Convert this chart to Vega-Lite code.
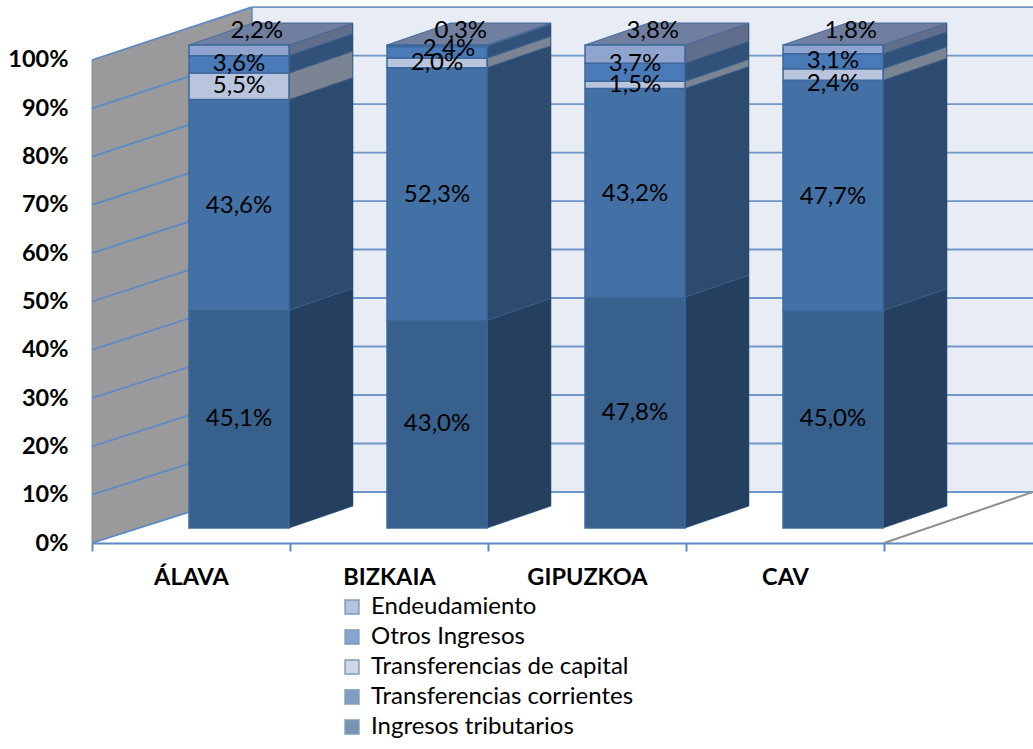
{
"$schema":"https://vega.github.io/schema/vega-lite/v6.json",
"width":941,"height":543,
"autosize":{"type":"none"},
"padding":{"left":92,"top":0,"right":0,"bottom":206},
"background":"white",
"config":{"view":{"stroke":null},"font":"Lato"},
"datasets":{
"ingresos":[
{"provincia":"ÁLAVA","serie":"Ingresos tributarios","valor":45.1},
{"provincia":"ÁLAVA","serie":"Transferencias corrientes","valor":43.6},
{"provincia":"ÁLAVA","serie":"Transferencias de capital","valor":5.5},
{"provincia":"ÁLAVA","serie":"Otros Ingresos","valor":3.6},
{"provincia":"ÁLAVA","serie":"Endeudamiento","valor":2.2},
{"provincia":"BIZKAIA","serie":"Ingresos tributarios","valor":43.0},
{"provincia":"BIZKAIA","serie":"Transferencias corrientes","valor":52.3},
{"provincia":"BIZKAIA","serie":"Transferencias de capital","valor":2.0},
{"provincia":"BIZKAIA","serie":"Otros Ingresos","valor":2.4},
{"provincia":"BIZKAIA","serie":"Endeudamiento","valor":0.3},
{"provincia":"GIPUZKOA","serie":"Ingresos tributarios","valor":47.8},
{"provincia":"GIPUZKOA","serie":"Transferencias corrientes","valor":43.2},
{"provincia":"GIPUZKOA","serie":"Transferencias de capital","valor":1.5},
{"provincia":"GIPUZKOA","serie":"Otros Ingresos","valor":3.7},
{"provincia":"GIPUZKOA","serie":"Endeudamiento","valor":3.8},
{"provincia":"CAV","serie":"Ingresos tributarios","valor":45.0},
{"provincia":"CAV","serie":"Transferencias corrientes","valor":47.7},
{"provincia":"CAV","serie":"Transferencias de capital","valor":2.4},
{"provincia":"CAV","serie":"Otros Ingresos","valor":3.1},
{"provincia":"CAV","serie":"Endeudamiento","valor":1.8}
],
"rejilla":[{"pct":0},{"pct":10},{"pct":20},{"pct":30},{"pct":40},{"pct":50},{"pct":60},{"pct":70},{"pct":80},{"pct":90},{"pct":100}]
},
"layer":[
{"data":{"values":[{"p":0},{"p":1}]},
 "transform":[{"calculate":"datum.p*0.808","as":"xw"},{"calculate":"datum.p*10.56","as":"yw0"},{"calculate":"100+datum.p*10.96","as":"yw1"}],
 "mark":{"type":"area","fill":"#9a9a9d","stroke":"#8f8f92","strokeWidth":1},
 "encoding":{
  "x":{"field":"xw","type":"quantitative",
   "scale":{"domain":[0,4.7525],"nice":false,"zero":false},
   "axis":{"title":null,"values":[0,0.5,1,1.5,2,2.5,3,3.5,4],
    "grid":false,"domainColor":"#5b8ac5","domainWidth":2,"tickColor":"#5b8ac5","tickWidth":2,"tickSize":8,
    "tickOpacity":{"condition":{"test":"datum.value%1==0","value":1},"value":0},
    "labelExpr":"datum.value==0.5?'ÁLAVA':datum.value==1.5?'BIZKAIA':datum.value==2.5?'GIPUZKOA':datum.value==3.5?'CAV':''",
    "labelFont":"Lato","labelFontWeight":"bold","labelFontSize":23.5,"labelColor":"#000","labelPadding":14,"labelOverlap":false,"labelBound":false,"labelFlush":false}},
  "y":{"field":"yw0","type":"quantitative",
   "scale":{"domain":[0,112.42],"nice":false,"zero":false},
   "axis":{"title":null,"values":[0,10,20,30,40,50,60,70,80,90,100],"grid":false,"domain":false,"ticks":false,
    "labelExpr":"datum.value+'%'","labelFont":"Lato","labelFontWeight":"bold","labelFontSize":23.5,"labelColor":"#000","labelPadding":24,"labelOverlap":false,"labelBound":false}},
  "y2":{"field":"yw1"}
 }},
{"data":{"values":[{"pared":"fondo"}]},
 "mark":{"type":"rect","fill":"#e8ecf5"},
 "encoding":{"x":{"datum":0.808},"x2":{"datum":4.7525},"y":{"datum":10.56},"y2":{"datum":110.96}}},
{"data":{"values":[{"pared":"arista"}]},
 "mark":{"type":"rule","stroke":"#5b8ac5","strokeWidth":1.5},
 "encoding":{"x":{"datum":0.808},"y":{"datum":10.56},"y2":{"datum":110.96}}},
{"data":{"name":"rejilla"},
 "transform":[{"calculate":"[0,1]","as":"p"},{"flatten":["p"]},{"calculate":"datum.p*0.808","as":"xg"},{"calculate":"datum.pct+datum.p*(10.56+datum.pct*0.004)","as":"yg"}],
 "mark":{"type":"line","stroke":"#5b8ac5","strokeWidth":1.8},
 "encoding":{"x":{"field":"xg","type":"quantitative"},"y":{"field":"yg","type":"quantitative"},"detail":{"field":"pct"}}},
{"data":{"name":"rejilla"},
 "transform":[{"calculate":"datum.pct+10.56+datum.pct*0.004","as":"yg"}],
 "mark":{"type":"rule","stroke":"#6f96c8","strokeWidth":1.8},
 "encoding":{"x":{"datum":0.808},"x2":{"datum":4.7525},"y":{"field":"yg","type":"quantitative"}}},
{"data":{"values":[{"p":0},{"p":1}]},
 "transform":[{"calculate":"4+datum.p*0.7525","as":"xf"},{"calculate":"datum.p*10.56","as":"yf"}],
 "mark":{"type":"line","stroke":"#8f8f92","strokeWidth":2},
 "encoding":{"x":{"field":"xf","type":"quantitative"},"y":{"field":"yf","type":"quantitative"}}},
{"data":{"name":"ingresos"},
 "transform":[
  {"calculate":"indexof(['ÁLAVA','BIZKAIA','GIPUZKOA','CAV'],datum.provincia)","as":"i"},
  {"calculate":"indexof(['Ingresos tributarios','Transferencias corrientes','Transferencias de capital','Otros Ingresos','Endeudamiento'],datum.serie)","as":"orden"},
  {"stack":"valor","groupby":["provincia"],"sort":[{"field":"orden","order":"ascending"}],"as":["v0","v1"]},
  {"calculate":"[0,1]","as":"p"},{"flatten":["p"]},
  {"calculate":"datum.i+0.995+datum.p*0.323","as":"xs"},
  {"calculate":"datum.v0+3.1+datum.p*4.55","as":"ys0"},
  {"calculate":"datum.v1+3.1+datum.p*4.55","as":"ys1"}],
 "layer":[
  {"mark":{"type":"area","fill":"#000000"},
   "encoding":{"x":{"field":"xs","type":"quantitative"},"y":{"field":"ys0","type":"quantitative"},"y2":{"field":"ys1"},"detail":[{"field":"provincia"},{"field":"serie"}]}},
  {"mark":{"type":"area","opacity":0.67,"stroke":"#3d689c","strokeWidth":1},
   "encoding":{"x":{"field":"xs","type":"quantitative"},"y":{"field":"ys0","type":"quantitative"},"y2":{"field":"ys1"},"detail":[{"field":"provincia"}],
    "fill":{"field":"serie","type":"nominal",
     "scale":{"domain":["Endeudamiento","Otros Ingresos","Transferencias de capital","Transferencias corrientes","Ingresos tributarios"],
      "range":["#8fa5cf","#4a7ab8","#b8c5dc","#4371a6","#37608d"]}}}}
 ]},
{"data":{"name":"ingresos"},
 "transform":[
  {"calculate":"indexof(['ÁLAVA','BIZKAIA','GIPUZKOA','CAV'],datum.provincia)","as":"i"},
  {"filter":"datum.serie=='Endeudamiento'"},
  {"calculate":"[0,1]","as":"p"},{"flatten":["p"]},
  {"calculate":"datum.i+0.49+datum.p*0.323","as":"xt0"},
  {"calculate":"datum.i+0.995+datum.p*0.323","as":"xt1"},
  {"calculate":"103.1+datum.p*4.55","as":"yt"}],
 "mark":{"type":"area","orient":"horizontal","fill":"#707f9f","stroke":"#4a6f9f","strokeWidth":1.2},
 "encoding":{"y":{"field":"yt","type":"quantitative"},"x":{"field":"xt0","type":"quantitative"},"x2":{"field":"xt1"},"detail":{"field":"provincia"}}},
{"data":{"name":"ingresos"},
 "transform":[
  {"calculate":"indexof(['ÁLAVA','BIZKAIA','GIPUZKOA','CAV'],datum.provincia)","as":"i"},
  {"calculate":"indexof(['Ingresos tributarios','Transferencias corrientes','Transferencias de capital','Otros Ingresos','Endeudamiento'],datum.serie)","as":"orden"},
  {"stack":"valor","groupby":["provincia"],"sort":[{"field":"orden","order":"ascending"}],"as":["v0","v1"]},
  {"calculate":"datum.i+0.49","as":"xa"},{"calculate":"datum.i+0.995","as":"xb"},
  {"calculate":"datum.v0+3.1","as":"ya"},{"calculate":"datum.v1+3.1","as":"yb"}],
 "mark":{"type":"rect","stroke":"#3d689c","strokeWidth":1.5},
 "encoding":{"x":{"field":"xa","type":"quantitative"},"x2":{"field":"xb"},"y":{"field":"ya","type":"quantitative"},"y2":{"field":"yb"},
  "fill":{"field":"serie","type":"nominal",
   "scale":{"domain":["Endeudamiento","Otros Ingresos","Transferencias de capital","Transferencias corrientes","Ingresos tributarios"],
    "range":["#8fa5cf","#4a7ab8","#b8c5dc","#4371a6","#37608d"]},
   "legend":{"title":null,"orient":"none","legendX":248,"legendY":595,"symbolType":"square","symbolSize":190,"symbolStrokeColor":"#4a78b0","symbolStrokeWidth":1.5,"symbolOpacity":1,
    "labelFont":"Lato","labelFontSize":24,"labelColor":"#000","labelOffset":7,"rowPadding":6,"labelLimit":400}}}},
{"data":{"name":"ingresos"},
 "transform":[
  {"calculate":"indexof(['ÁLAVA','BIZKAIA','GIPUZKOA','CAV'],datum.provincia)","as":"i"},
  {"calculate":"indexof(['Ingresos tributarios','Transferencias corrientes','Transferencias de capital','Otros Ingresos','Endeudamiento'],datum.serie)","as":"orden"},
  {"stack":"valor","groupby":["provincia"],"sort":[{"field":"orden","order":"ascending"}],"as":["v0","v1"]},
  {"calculate":"replace(format(datum.valor,'.1f'),'.',',')+'%'","as":"etiqueta"},
  {"calculate":"datum.serie=='Endeudamiento'?106:(datum.v0+datum.v1)/2+3.1+(datum.provincia=='CAV'&&datum.orden==2?-1.9:0)+(datum.provincia=='GIPUZKOA'&&datum.orden==3?1.7:0)+(datum.provincia=='BIZKAIA'&&datum.orden==3?0.6:0)-(datum.orden==1?0.3:0)","as":"yl"},
  {"calculate":"datum.i+0.7425+(datum.serie=='Endeudamiento'?(datum.provincia=='BIZKAIA'?0.12:0.09):0)+(datum.provincia=='BIZKAIA'&&datum.orden==3?0.06:0)","as":"xl"}],
 "mark":{"type":"text","font":"Lato","fontSize":24,"color":"#000","align":"center","baseline":"middle"},
 "encoding":{"x":{"field":"xl","type":"quantitative"},"y":{"field":"yl","type":"quantitative"},"text":{"field":"etiqueta"}}}
]
}
